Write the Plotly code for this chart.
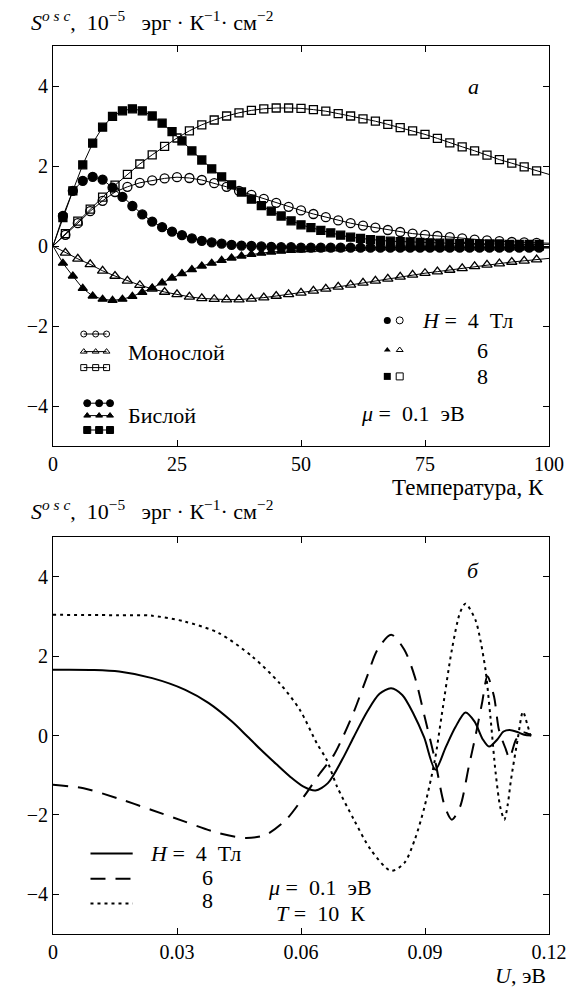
import plotly.graph_objects as go
from plotly.subplots import make_subplots

# ---------------- Panel (a): S_osc vs temperature ----------------
# Monolayer (open markers), T step 2.5 K; first/last points are line ends
T_mono = [0, 2.5, 5, 7.5, 10, 12.5, 15, 17.5, 20, 22.5, 25, 27.5, 30, 32.5, 35, 37.5, 40,
          42.5, 45, 47.5, 50, 52.5, 55, 57.5, 60, 62.5, 65, 67.5, 70, 72.5, 75, 77.5, 80,
          82.5, 85, 87.5, 90, 92.5, 95, 97.5, 100]
mono_H4 = [0, 0.28, 0.57, 0.87, 1.13, 1.35, 1.48, 1.58, 1.64, 1.69, 1.72, 1.70, 1.65, 1.57,
           1.48, 1.38, 1.28, 1.18, 1.08, 0.98, 0.89, 0.80, 0.72, 0.64, 0.57, 0.51, 0.46, 0.40,
           0.35, 0.31, 0.28, 0.25, 0.22, 0.19, 0.16, 0.14, 0.12, 0.10, 0.09, 0.08, 0.07]
mono_H6 = [0, -0.17, -0.32, -0.46, -0.62, -0.75, -0.87, -0.98, -1.07, -1.15, -1.21, -1.27,
           -1.31, -1.33, -1.34, -1.34, -1.32, -1.29, -1.25, -1.21, -1.17, -1.12, -1.07, -1.02,
           -0.97, -0.92, -0.87, -0.82, -0.77, -0.72, -0.68, -0.64, -0.60, -0.56, -0.51, -0.47,
           -0.44, -0.40, -0.37, -0.34, -0.31]
mono_H8 = [0, 0.31, 0.62, 0.92, 1.22, 1.52, 1.79, 2.05, 2.28, 2.49, 2.70, 2.88, 3.03, 3.15,
           3.25, 3.33, 3.39, 3.43, 3.45, 3.45, 3.44, 3.41, 3.37, 3.31, 3.25, 3.18, 3.12, 3.04,
           2.96, 2.88, 2.79, 2.69, 2.58, 2.48, 2.38, 2.27, 2.16, 2.07, 1.98, 1.88, 1.79]

# Bilayer (filled markers), T step 2 K
T_bi = [0, 2, 4, 6, 8, 10, 12, 14, 16, 18, 20, 22, 24, 26, 28, 30, 32, 34, 36, 38, 40, 42,
        44, 46, 48, 50, 52, 54, 56, 58, 60, 62, 64, 66, 68, 70, 72, 74, 76, 78, 80, 82, 84,
        86, 88, 90, 92, 94, 96, 98, 100]
bi_H4 = [0, 0.75, 1.38, 1.63, 1.73, 1.66, 1.46, 1.23, 1.00, 0.79, 0.61, 0.47, 0.36, 0.27,
         0.19, 0.13, 0.09, 0.06, 0.03, 0.01, 0.0, -0.01, -0.02, -0.03, -0.03, -0.04, -0.04,
         -0.04, -0.04, -0.04, -0.04, -0.04, -0.04, -0.04, -0.04, -0.04, -0.04, -0.04, -0.04,
         -0.04, -0.04, -0.04, -0.04, -0.04, -0.04, -0.04, -0.04, -0.04, -0.04, -0.04, -0.04]
bi_H6 = [0, -0.43, -0.75, -1.06, -1.25, -1.33, -1.36, -1.33, -1.26, -1.16, -1.05, -0.92,
         -0.80, -0.69, -0.59, -0.50, -0.43, -0.36, -0.30, -0.25, -0.21, -0.18, -0.15, -0.13,
         -0.11, -0.10, -0.09, -0.08, -0.07, -0.07, -0.06, -0.06, -0.05, -0.05, -0.05, -0.05,
         -0.05, -0.05, -0.05, -0.05, -0.05, -0.05, -0.05, -0.05, -0.05, -0.05, -0.05, -0.05,
         -0.05, -0.05, -0.05]
bi_H8 = [0, 0.71, 1.38, 2.03, 2.57, 2.97, 3.24, 3.38, 3.43, 3.38, 3.25, 3.07, 2.86, 2.63,
         2.38, 2.15, 1.93, 1.73, 1.53, 1.35, 1.17, 1.01, 0.87, 0.75, 0.63, 0.53, 0.46, 0.39,
         0.33, 0.27, 0.22, 0.19, 0.16, 0.14, 0.12, 0.11, 0.10, 0.09, 0.08, 0.07, 0.07, 0.06,
         0.06, 0.05, 0.05, 0.05, 0.04, 0.04, 0.04, 0.04, 0.04]

# ---------------- Panel (б): S_osc vs U at T = 10 K ----------------
U_H4 = [0, 0.010, 0.016, 0.024, 0.032, 0.0376, 0.0433, 0.0468, 0.0503, 0.0540, 0.0575,
        0.0605, 0.0635, 0.0665, 0.0700, 0.0727, 0.0760, 0.0790, 0.0818, 0.0845, 0.0872,
        0.0898, 0.0925, 0.0950, 0.0973, 0.0998, 0.1020, 0.1040, 0.1055, 0.1075, 0.1090,
        0.1105, 0.1125, 0.1140, 0.1157]
S_H4 = [1.655, 1.65, 1.61, 1.445, 1.15, 0.82, 0.35, 0.0, -0.36, -0.72, -1.05, -1.28, -1.385,
        -1.2, -0.6, -0.05, 0.6, 1.05, 1.19, 1.02, 0.55, -0.05, -0.86, -0.3, 0.2, 0.58, 0.35,
        -0.1, -0.28, -0.1, 0.1, 0.14, 0.08, 0.02, 0.0]
U_H6 = [0, 0.0074, 0.0156, 0.0237, 0.0319, 0.0401, 0.0466, 0.0515, 0.0564, 0.0613, 0.0646,
        0.0679, 0.0703, 0.0728, 0.0760, 0.0785, 0.0818, 0.0850, 0.0875, 0.0899, 0.0924,
        0.0948, 0.0965, 0.0985, 0.1006, 0.1022, 0.1038, 0.1051, 0.1067, 0.1079, 0.1096,
        0.1104, 0.1120, 0.1135, 0.1157]
S_H6 = [-1.24, -1.33, -1.58, -1.87, -2.17, -2.46, -2.58, -2.5, -2.12, -1.45, -0.95, -0.5,
        0.0, 0.6, 1.49, 2.16, 2.54, 2.16, 1.49, 0.48, -0.61, -1.79, -2.12, -1.79, -0.78,
        -0.02, 0.82, 1.49, 0.98, 0.14, -0.36, -0.57, -0.11, 0.08, 0.0]
U_H8 = [0, 0.0156, 0.0237, 0.0319, 0.0401, 0.0482, 0.0548, 0.0597, 0.0638, 0.0662, 0.0687,
        0.0728, 0.0769, 0.0818, 0.0850, 0.0875, 0.0899, 0.0924, 0.0940, 0.0965, 0.0985,
        0.0998, 0.1022, 0.1035, 0.1047, 0.1058, 0.1071, 0.1082, 0.1092, 0.1100, 0.1108,
        0.1124, 0.1137, 0.1147, 0.1155]
S_H8 = [3.04, 3.03, 3.02, 2.87, 2.58, 1.99, 1.32, 0.65, -0.19, -0.61, -1.28, -2.12, -2.88,
        -3.41, -3.21, -2.63, -1.79, -0.61, 0.48, 2.16, 3.1, 3.32, 2.91, 2.35, 1.6, 0.5, -0.95,
        -1.8, -2.12, -1.75, -1.12, -0.11, 0.6, 0.3, 0.0]

x_ticks_a = [0, 25, 50, 75, 100]
x_ticks_b = [0, 0.03, 0.06, 0.09, 0.12]
x_ticktext_b = ["0", "0.03", "0.06", "0.09", "0.12"]
y_ticks = [-4, -2, 0, 2, 4]

FONT = "Liberation Serif"
W, H = 583, 990
ML, MR, MT, MB = 53, 34, 46, 56
PH = H - MT - MB
NB = "&nbsp;"


def py(p):
    return (H - MB - p) / PH


def px(p):
    return (p - ML) / (W - ML - MR)


fig = make_subplots(rows=2, cols=1)

# --- panel a curves ---
series_a = [
    (T_mono, mono_H4, "circle-open", 9),
    (T_mono, mono_H6, "triangle-up-open", 9),
    (T_mono, mono_H8, "square-open", 8),
    (T_bi, bi_H6, "triangle-up", 8),
    (T_bi, bi_H4, "circle", 9),
    (T_bi, bi_H8, "square", 8),
]
for xs, ys, sym, sz in series_a:
    fig.add_trace(go.Scatter(x=xs, y=ys, mode="lines", line=dict(color="black", width=1),
                             showlegend=False, hoverinfo="skip"), row=1, col=1)
    fig.add_trace(go.Scatter(x=xs[1:-1], y=ys[1:-1], mode="markers",
                             marker=dict(symbol=sym, size=sz, color="black",
                                         line=dict(color="black", width=1.3)),
                             showlegend=False, hoverinfo="skip"), row=1, col=1)

# --- panel a legend samples ---
def sample(xs, y, sym, sz, row=1):
    fig.add_trace(go.Scatter(x=xs, y=[y] * len(xs), mode="lines+markers",
                             line=dict(color="black", width=1),
                             marker=dict(symbol=sym, size=sz, color="black",
                                         line=dict(color="black", width=1)),
                             showlegend=False, hoverinfo="skip"), row=row, col=1)

sample([6.2, 8.6, 10.8], -2.2, "circle-open", 6)
sample([6.2, 8.6, 10.8], -2.64, "triangle-up-open", 6)
sample([6.2, 8.6, 10.8], -3.04, "square-open", 6)
sample([6.9, 9.3, 11.5], -3.93, "circle", 7)
sample([6.9, 9.3, 11.5], -4.24, "triangle-up", 6)
sample([6.9, 9.3, 11.5], -4.6, "square", 7)
for (sym, sz), y in zip([("circle", 7), ("triangle-up", 6), ("square", 7)], [-1.86, -2.6, -3.26]):
    fig.add_trace(go.Scatter(x=[67.4], y=[y], mode="markers",
                             marker=dict(symbol=sym, size=sz, color="black"),
                             showlegend=False, hoverinfo="skip"), row=1, col=1)
for (sym, sz), y in zip([("circle-open", 7), ("triangle-up-open", 6), ("square-open", 7)], [-1.86, -2.6, -3.26]):
    fig.add_trace(go.Scatter(x=[69.9], y=[y], mode="markers",
                             marker=dict(symbol=sym, size=sz, color="black", line=dict(width=1)),
                             showlegend=False, hoverinfo="skip"), row=1, col=1)

# --- panel b curves ---
series_b = [
    (U_H4, S_H4, "solid"),
    (U_H6, S_H6, "15px,10px"),
    (U_H8, S_H8, "3px,4px"),
]
for xs, ys, dash in series_b:
    fig.add_trace(go.Scatter(x=xs, y=ys, mode="lines",
                             line=dict(color="black", width=2, dash=dash, shape="spline", smoothing=0.8),
                             showlegend=False, hoverinfo="skip"), row=2, col=1)

for y, dash in zip([-2.97, -3.61, -4.23], ["solid", "15px,10px", "3px,4px"]):
    fig.add_trace(go.Scatter(x=[0.00907, 0.01928], y=[y, y], mode="lines",
                             line=dict(color="black", width=2, dash=dash),
                             showlegend=False, hoverinfo="skip"), row=2, col=1)

axis_common = dict(showline=True, linecolor="black", linewidth=1, mirror="ticks",
                   ticks="inside", ticklen=6, tickcolor="black", tickwidth=1,
                   showgrid=False, zeroline=False, automargin=False,
                   tickfont=dict(family=FONT, size=20, color="black"))

fig.update_xaxes(range=[0, 100], tickvals=x_ticks_a, row=1, col=1, **axis_common)
fig.update_xaxes(range=[0, 0.12], tickvals=x_ticks_b, ticktext=x_ticktext_b, row=2, col=1, **axis_common)
fig.update_yaxes(range=[-5, 5], tickvals=y_ticks, row=1, col=1, **axis_common)
fig.update_yaxes(range=[-5, 5], tickvals=y_ticks, row=2, col=1, **axis_common)

fig.update_layout(
    width=W, height=H,
    margin=dict(l=ML, r=MR, t=MT, b=MB),
    paper_bgcolor="white", plot_bgcolor="white",
    font=dict(family=FONT, size=20, color="black"),
    xaxis=dict(domain=[0, 1]), xaxis2=dict(domain=[0, 1]),
    yaxis=dict(domain=[1 - 400 / PH, 1]),
    yaxis2=dict(domain=[0, 397 / PH]),
)

ytitle = ("<i>S</i><sup><i>o s c</i></sup>," + NB + NB + "10<sup>−5</sup>" + NB + NB + NB
          + "эрг" + NB + "·" + NB + "К<sup>−1</sup>·" + NB + "см<sup>−2</sup>")
TS = 22
ann = []
ann.append(dict(text=ytitle, xref="paper", yref="paper", x=px(29), y=py(21),
                xanchor="left", yanchor="middle", showarrow=False, font=dict(size=TS)))
ann.append(dict(text=ytitle, xref="paper", yref="paper", x=px(29), y=py(510),
                xanchor="left", yanchor="middle", showarrow=False, font=dict(size=TS)))
ann.append(dict(text="Температура," + NB + "К", xref="paper", yref="paper", x=px(546), y=py(487),
                xanchor="right", yanchor="middle", showarrow=False, font=dict(size=23)))
ann.append(dict(text="<i>U</i>," + NB + "эВ", xref="paper", yref="paper", x=px(548), y=py(975),
                xanchor="right", yanchor="middle", showarrow=False, font=dict(size=22)))

HTXT = "<i>H</i>" + NB + "=" + NB + NB + "4" + NB + NB + "Тл"
MUTXT = "<i>μ</i>" + NB + "=" + NB + NB + "0.1" + NB + NB + "эВ"
TTXT = "<i>T</i>" + NB + "=" + NB + NB + "10" + NB + NB + "К"

# panel a texts
ann.append(dict(text="<i>a</i>", xref="x", yref="y", x=84.7, y=4.0, showarrow=False,
                font=dict(size=TS)))
ann.append(dict(text="Монослой", xref="x", yref="y", x=14.7, y=-2.65, xanchor="left",
                showarrow=False, font=dict(size=TS)))
ann.append(dict(text="Бислой", xref="x", yref="y", x=14.7, y=-4.23, xanchor="left",
                showarrow=False, font=dict(size=TS)))
ann.append(dict(text=HTXT, xref="x", yref="y", x=73.9, y=-1.86, xanchor="left",
                showarrow=False, font=dict(size=TS)))
ann.append(dict(text="6", xref="x", yref="y", x=86.5, y=-2.62, showarrow=False, font=dict(size=TS)))
ann.append(dict(text="8", xref="x", yref="y", x=86.5, y=-3.27, showarrow=False, font=dict(size=TS)))
ann.append(dict(text=MUTXT, xref="x", yref="y", x=61.7, y=-4.18, xanchor="left",
                showarrow=False, font=dict(size=TS)))

# panel b texts
ann.append(dict(text="<i>б</i>", xref="x2", yref="y2", x=0.1015, y=4.16, showarrow=False,
                font=dict(size=TS)))
ann.append(dict(text=HTXT, xref="x2", yref="y2", x=0.02298, y=-2.97, xanchor="left",
                showarrow=False, font=dict(size=TS)))
ann.append(dict(text="6", xref="x2", yref="y2", x=0.03726, y=-3.58, showarrow=False, font=dict(size=TS)))
ann.append(dict(text="8", xref="x2", yref="y2", x=0.03726, y=-4.16, showarrow=False, font=dict(size=TS)))
ann.append(dict(text=MUTXT, xref="x2", yref="y2", x=0.0646, y=-3.84,
                showarrow=False, font=dict(size=TS)))
ann.append(dict(text=TTXT, xref="x2", yref="y2", x=0.0646, y=-4.49,
                showarrow=False, font=dict(size=TS)))

fig.update_layout(annotations=ann)
fig.write_html("out.html", config={"displayModeBar": False},
               post_script="document.body.style.margin='0px';document.body.style.overflow='hidden';")
